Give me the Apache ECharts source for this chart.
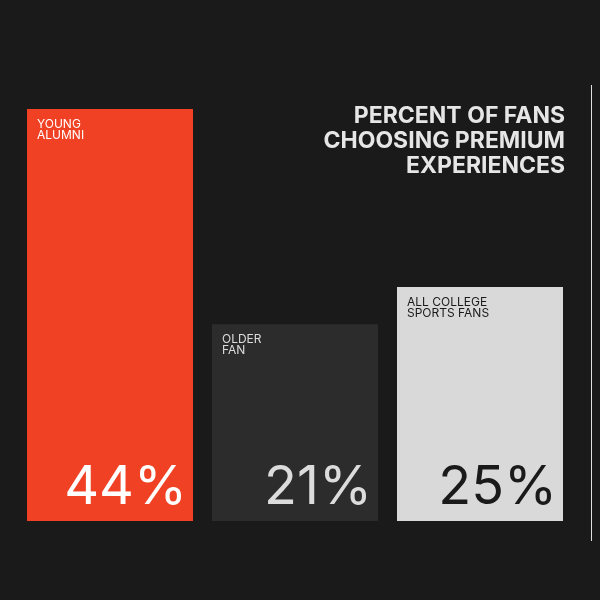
<!DOCTYPE html>
<html>
<head>
<meta charset="utf-8">
<script src="https://cdn.jsdelivr.net/npm/echarts@6/dist/echarts.min.js"></script>
<style>html,body{margin:0;padding:0;background:#1b1a1a}#main{width:600px;height:600px}</style>
</head>
<body>
<div id="main"></div>
<script>
var categories = ['YOUNG\nALUMNI', 'OLDER\nFAN', 'ALL COLLEGE\nSPORTS FANS'];
var values = [44, 21, 25];
var barColors = ['#f04124', '#2d2c2c', '#d9d9d9'];
var textColors = ['#ffffff', '#dcdcdc', '#1b1a1a'];

var myChart = echarts.init(document.getElementById('main'));
var option = {
    backgroundColor: '#1b1a1a',
    animation: false,
    grid: { left: 17.5, right: 27.5, top: 109, bottom: 79 },
    xAxis: { type: 'category', data: categories, show: false },
    yAxis: { type: 'value', min: 0, max: 44, show: false },
    series: [
        {
            type: 'bar', barWidth: 166,
            data: values.map(function (v, i) {
                return { value: v, itemStyle: { color: barColors[i] }, label: { color: textColors[i] } };
            }),
            label: {
                show: true, position: 'insideTopLeft', distance: 10,
                formatter: function (p) { return categories[p.dataIndex]; },
                fontFamily: 'Inter', fontSize: 12, lineHeight: 11
            }
        },
        {
            type: 'bar', barWidth: 166, barGap: '-100%',
            data: values.map(function (v, i) {
                return { value: v, itemStyle: { color: 'transparent' }, label: { color: textColors[i] } };
            }),
            label: {
                show: true, position: 'insideBottomRight', distance: 6,
                formatter: '{c}%', fontFamily: 'Inter', fontSize: 54
            }
        }
    ],
    graphic: [
        { type: 'line', shape: { x1: 591.5, y1: 85, x2: 591.5, y2: 541 }, style: { stroke: '#e0e0e0', lineWidth: 1 } },
        { type: 'text', x: 565, y: 104, style: {
            text: 'PERCENT OF FANS\nCHOOSING PREMIUM\nEXPERIENCES', align: 'right',
            fill: '#e6e6e6', font: 'bold 23px Inter', lineHeight: 25 } }
    ]
};
myChart.setOption(option);
</script>
</body>
</html>
